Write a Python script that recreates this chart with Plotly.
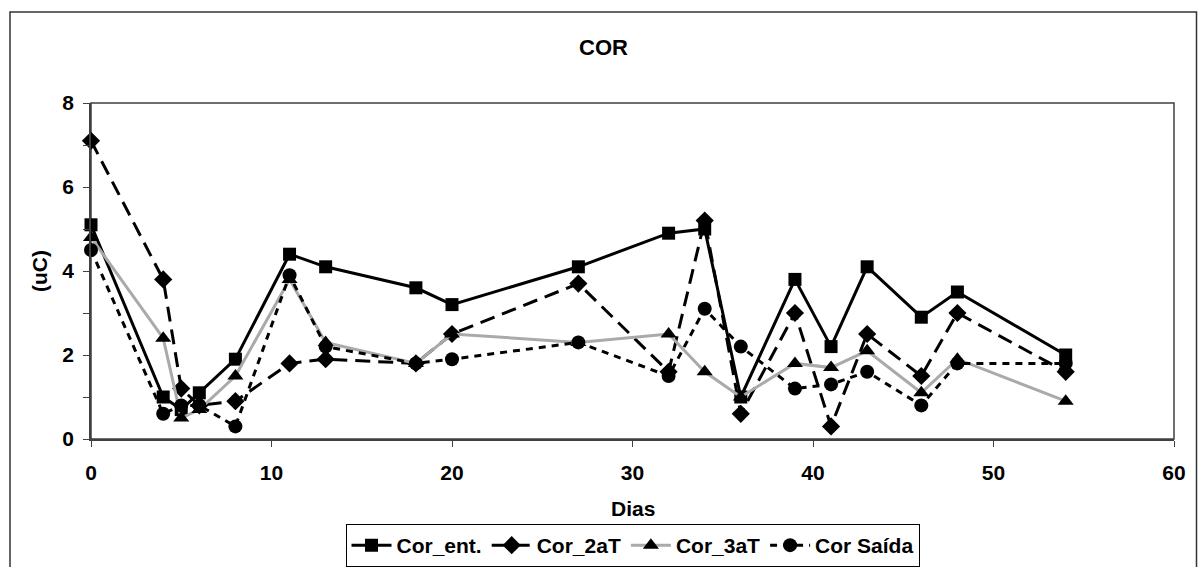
import plotly.graph_objects as go

dias = [0, 4, 5, 6, 8, 11, 13, 18, 20, 27, 32, 34, 36, 39, 41, 43, 46, 48, 54]
cor_ent = [5.1, 1.0, 0.7, 1.1, 1.9, 4.4, 4.1, 3.6, 3.2, 4.1, 4.9, 5.0, 1.0, 3.8, 2.2, 4.1, 2.9, 3.5, 2.0]
cor_2aT = [7.1, 3.8, 1.2, 0.8, 0.9, 1.8, 1.9, 1.8, 2.5, 3.7, 1.6, 5.2, 0.6, 3.0, 0.3, 2.5, 1.5, 3.0, 1.6]
cor_3aT = [4.8, 2.4, 0.5, 0.7, 1.5, 3.8, 2.3, 1.8, 2.5, 2.3, 2.5, 1.6, 1.0, 1.8, 1.7, 2.1, 1.1, 1.9, 0.9]
cor_saida = [4.5, 0.6, 0.8, 0.8, 0.3, 3.9, 2.2, 1.8, 1.9, 2.3, 1.5, 3.1, 2.2, 1.2, 1.3, 1.6, 0.8, 1.8, 1.8]

W, H = 1198, 567
L, R, T, B = 91, 1174, 103, 439
pw, ph = R - L, B - T

def px(x):
    return (x - L) / pw

def py(y):
    return (B - y) / ph

FONT = "Liberation Sans, Arial, sans-serif"

fig = go.Figure()
fig.add_trace(go.Scatter(x=dias, y=cor_ent, name="Cor_ent.", mode="lines+markers",
                         line=dict(color="black", width=3),
                         marker=dict(symbol="square", size=13, color="black"),
                         cliponaxis=False))
fig.add_trace(go.Scatter(x=dias, y=cor_2aT, name="Cor_2aT", mode="lines+markers",
                         line=dict(color="black", width=3, dash="15px,8px"),
                         marker=dict(symbol="diamond", size=14, color="black"),
                         cliponaxis=False))
fig.add_trace(go.Scatter(x=dias, y=cor_3aT, name="Cor_3aT", mode="lines+markers",
                         line=dict(color="#aaaaaa", width=3),
                         marker=dict(symbol="triangle-up", size=14, color="black"),
                         cliponaxis=False))
fig.add_trace(go.Scatter(x=dias, y=cor_saida, name="Cor Saída", mode="lines+markers",
                         line=dict(color="black", width=3, dash="7px,6px"),
                         marker=dict(symbol="circle", size=14, color="black"),
                         cliponaxis=False))

ytv = list(range(0, 9))
ytt = [str(v) if v % 2 == 0 else "" for v in ytv]

fig.update_layout(
    width=W, height=H,
    margin=dict(l=L, r=W - R, t=T, b=H - B, autoexpand=False),
    paper_bgcolor="white", plot_bgcolor="white",
    font=dict(family=FONT, size=21, color="black", weight="bold"),
    showlegend=True,
    legend=dict(orientation="h", x=0.5, xanchor="center", y=py(567), yanchor="bottom",
                bordercolor="black", borderwidth=1, bgcolor="white",
                font=dict(size=21, family=FONT, weight="bold"),
                itemwidth=40, tracegroupgap=0),
    xaxis=dict(range=[0, 60], dtick=10, showgrid=False, zeroline=False,
               showline=True, linecolor="#404040", linewidth=1.5,
               ticks="outside", ticklen=6, tickcolor="#404040", automargin=False,
               ticklabelstandoff=8, tickfont=dict(size=21, weight="bold")),
    yaxis=dict(range=[0, 8], tickvals=ytv, ticktext=ytt, showgrid=False, zeroline=False,
               showline=True, linecolor="#404040", linewidth=1.5,
               ticks="outside", ticklen=6, tickcolor="#404040", automargin=False,
               ticklabelstandoff=5, tickfont=dict(size=21, weight="bold")),
    annotations=[
        dict(text="COR", xref="paper", yref="paper", x=px(603), y=py(48),
             xanchor="center", yanchor="middle",
             showarrow=False, font=dict(size=22, weight="bold")),
        dict(text="(uC)", xref="paper", yref="paper", x=px(39), y=0.5, textangle=-90,
             xanchor="center", yanchor="middle",
             showarrow=False, font=dict(size=21, weight="bold")),
        dict(text="Dias", xref="paper", yref="paper", x=0.5, y=py(508),
             xanchor="center", yanchor="middle",
             showarrow=False, font=dict(size=21, weight="bold")),
    ],
    shapes=[
        dict(type="rect", xref="paper", yref="paper", x0=0, x1=1, y0=0, y1=1,
             line=dict(color="#404040", width=1.5), layer="below"),
        dict(type="rect", xref="paper", yref="paper", x0=px(10), x1=px(1196.5),
             y0=py(580), y1=py(12), line=dict(color="#333333", width=1.5), layer="below"),
    ],
)

fig.write_html("out.html", config={"displayModeBar": False},
               post_script="document.body.style.margin='0';")
